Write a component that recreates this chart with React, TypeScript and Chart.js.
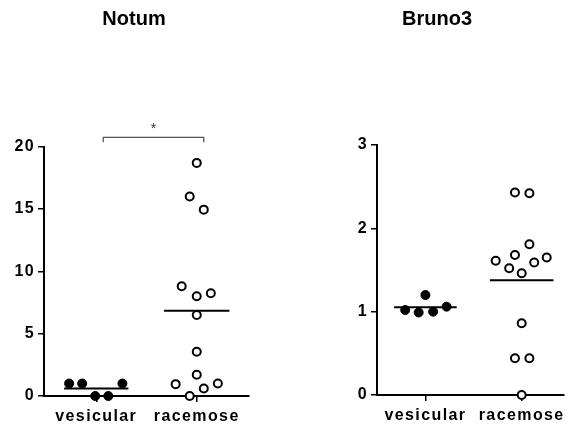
import React, { useEffect, useRef } from 'react';
import { Chart, registerables } from 'chart.js';

Chart.register(...registerables);

// ---- data ----
const categories = ['vesicular', 'racemose'];

const notumVesicular = [1.0, 1.0, 1.0, 0.0, 0.0];
const notumVesicularJitter = [-0.27, -0.14, 0.26, -0.01, 0.12];
const notumRacemose = [18.7, 16.0, 14.95, 8.8, 8.0, 8.25, 6.5, 3.55, 1.7, 0.95, 1.0, 0.6, 0.0];
const notumRacemoseJitter = [0, -0.07, 0.07, -0.15, 0, 0.14, 0, 0, 0, -0.21, 0.21, 0.07, -0.07];
const notumTicks = [0, 5, 10, 15, 20];

const brunoVesicular = [1.2, 1.02, 0.99, 1.0, 1.06];
const brunoVesicularJitter = [0, -0.21, -0.07, 0.08, 0.22];
const brunoRacemose = [2.43, 2.42, 1.81, 1.68, 1.61, 1.65, 1.59, 1.52, 1.46, 0.86, 0.44, 0.44, 0.0];
const brunoRacemoseJitter = [-0.07, 0.08, 0.08, -0.07, -0.27, 0.26, 0.13, -0.13, 0, 0, -0.07, 0.08, 0];
const brunoTicks = [0, 1, 2, 3];

const notumSignificance = [{ a: 1, b: 2, label: '*' }];

// ---- helpers ----
const mean = (a: number[]) => a.reduce((s, v) => s + v, 0) / a.length;

type Group = { values: number[]; jitter: number[]; filled: boolean; half: number };
type Panel = {
  title: string;
  titleX: number;
  titleY: number;
  groups: Group[];
  ticks: number[];
  width: number;
  left: number;
  areaLeft: number;
  areaTop: number;
  areaRight: number;
  areaBottom: number;
  xMin: number;
  xMax: number;
  sig: { a: number; b: number; label: string }[];
};

const H = 427;
const TICK_FONT = { family: '"Liberation Sans", Arial, sans-serif', size: 16, weight: 'bold' as const };

const decorPlugin = {
  id: 'decor',
  beforeUpdate(chart: any) {
    chart.ctx.letterSpacing = '1.4px';
  },
  beforeDraw(chart: any) {
    chart.ctx.letterSpacing = '1.4px';
  },
  afterDraw(chart: any, _args: any, opts: any) {
    const ctx = chart.ctx as CanvasRenderingContext2D;
    ctx.save();
    (ctx as any).letterSpacing = '0px';
    ctx.fillStyle = '#000';
    ctx.font = 'bold 20px "Liberation Sans", Arial, sans-serif';
    ctx.textAlign = 'center';
    ctx.textBaseline = 'middle';
    ctx.fillText(opts.title, opts.titleX, opts.titleY);
    const xs = chart.scales.x;
    const top = chart.chartArea.top;
    (opts.sig || []).forEach((s: any) => {
      const x1 = xs.getPixelForValue(s.a) + 7;
      const x2 = xs.getPixelForValue(s.b) + 7;
      const yTop = top - 9.4;
      const yEnd = top - 4.4;
      ctx.strokeStyle = '#555';
      ctx.lineWidth = 1.3;
      ctx.beginPath();
      ctx.moveTo(x1, yEnd);
      ctx.lineTo(x1, yTop);
      ctx.lineTo(x2, yTop);
      ctx.lineTo(x2, yEnd);
      ctx.stroke();
      ctx.fillStyle = '#333';
      ctx.font = '14px "Liberation Sans", Arial, sans-serif';
      ctx.textBaseline = 'alphabetic';
      ctx.fillText(s.label, (x1 + x2) / 2, yTop - 4);
    });
    ctx.restore();
  },
};

function buildConfig(p: Panel): any {
  const datasets: any[] = [];
  p.groups.forEach((g, gi) => {
    const cx = gi + 1;
    datasets.push({
      data: g.values.map((v, i) => ({ x: cx + g.jitter[i], y: v })),
      pointRadius: g.filled ? 4.5 : 4,
      pointBorderWidth: g.filled ? 1 : 2,
      pointBackgroundColor: g.filled ? '#000' : '#fff',
      pointBorderColor: '#000',
      showLine: false,
      clip: false,
      order: 2,
    });
    const m = mean(g.values);
    datasets.push({
      data: [
        { x: cx - g.half, y: m },
        { x: cx + g.half, y: m },
      ],
      showLine: true,
      borderColor: '#000',
      borderWidth: 2,
      pointRadius: 0,
      clip: false,
      order: 1,
    });
  });

  return {
    type: 'scatter',
    data: { datasets },
    plugins: [decorPlugin],
    options: {
      responsive: false,
      animation: false,
      events: [],
      layout: {
        padding: { top: p.areaTop, right: p.width - p.areaRight, left: 0, bottom: 0 },
      },
      plugins: {
        legend: { display: false },
        tooltip: { enabled: false },
        title: { display: false },
        decor: { title: p.title, titleX: p.titleX, titleY: p.titleY, sig: p.sig },
      },
      scales: {
        x: {
          type: 'linear',
          min: p.xMin,
          max: p.xMax,
          afterBuildTicks: (s: any) => {
            s.ticks = categories.map((_, i) => ({ value: i + 1 }));
          },
          afterFit: (s: any) => {
            s.height = H - p.areaBottom;
          },
          ticks: {
            callback: (_v: any, i: number) => categories[i],
            color: '#000',
            font: TICK_FONT,
            padding: 5,
            autoSkip: false,
            maxRotation: 0,
          },
          grid: { drawOnChartArea: false, drawTicks: true, tickLength: 6, color: '#000', lineWidth: 1.5 },
          border: { display: true, color: '#000', width: 2 },
        },
        y: {
          type: 'linear',
          min: p.ticks[0],
          max: p.ticks[p.ticks.length - 1],
          afterBuildTicks: (s: any) => {
            s.ticks = p.ticks.map((v) => ({ value: v }));
          },
          afterFit: (s: any) => {
            s.width = p.areaLeft;
          },
          ticks: {
            callback: (v: any) => String(v),
            color: '#000',
            font: TICK_FONT,
            padding: 3,
          },
          grid: { drawOnChartArea: false, drawTicks: true, tickLength: 6, color: '#000', lineWidth: 1.5 },
          border: { display: true, color: '#000', width: 2 },
        },
      },
    },
  };
}

const notumPanel: Panel = {
  title: 'Notum',
  titleX: 134,
  titleY: 19.5,
  groups: [
    { values: notumVesicular, jitter: notumVesicularJitter, filled: true, half: 0.32 },
    { values: notumRacemose, jitter: notumRacemoseJitter, filled: false, half: 0.325 },
  ],
  ticks: notumTicks,
  width: 285,
  left: 0,
  areaLeft: 44,
  areaTop: 146.7,
  areaRight: 249,
  areaBottom: 396,
  xMin: 0.48,
  xMax: 2.52,
  sig: notumSignificance,
};

const brunoPanel: Panel = {
  title: 'Bruno3',
  titleX: 152,
  titleY: 19.5,
  groups: [
    { values: brunoVesicular, jitter: brunoVesicularJitter, filled: true, half: 0.325 },
    { values: brunoRacemose, jitter: brunoRacemoseJitter, filled: false, half: 0.33 },
  ],
  ticks: brunoTicks,
  width: 286,
  left: 285,
  areaLeft: 92,
  areaTop: 145,
  areaRight: 286,
  areaBottom: 395,
  xMin: 0.497,
  xMax: 2.437,
  sig: [],
};

function PanelChart({ panel }: { panel: Panel }) {
  const ref = useRef<HTMLCanvasElement>(null);
  useEffect(() => {
    const chart = new Chart(ref.current as HTMLCanvasElement, buildConfig(panel));
    return () => chart.destroy();
  }, [panel]);
  return (
    <canvas
      ref={ref}
      width={panel.width}
      height={H}
      style={{ position: 'absolute', left: panel.left, top: 0, width: panel.width, height: H, display: 'block' }}
    />
  );
}

export default function App() {
  return (
    <div style={{ position: 'fixed', left: 0, top: 0, width: 571, height: H, background: '#fff', overflow: 'hidden' }}>
      <PanelChart panel={notumPanel} />
      <PanelChart panel={brunoPanel} />
    </div>
  );
}
